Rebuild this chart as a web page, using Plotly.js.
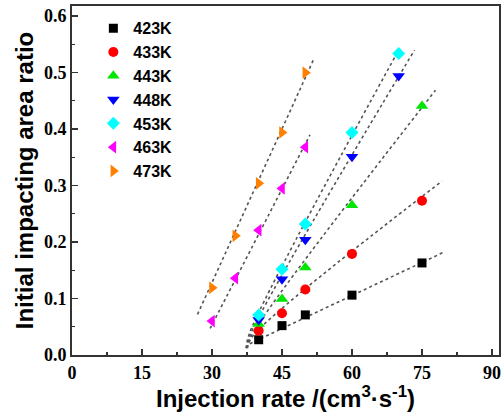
<!DOCTYPE html>
<html>
<head>
<meta charset="utf-8">
<script src="https://cdn.plot.ly/plotly-3.0.1.min.js"></script>
<style>html,body{margin:0;padding:0;background:#fff;}#chart{width:502px;height:412px;}</style>
</head>
<body>
<div id="chart"></div>
<script>
// Series names
const seriesNames = ["423K", "433K", "443K", "448K", "453K", "463K", "473K"];

const x423 = [40, 45, 50, 60, 75];
const y423 = [0.027, 0.052, 0.071, 0.106, 0.163];
const x433 = [40, 45, 50, 60, 75];
const y433 = [0.043, 0.074, 0.116, 0.179, 0.273];
const x443 = [40, 45, 50, 60, 75];
const y443 = [0.055, 0.099, 0.155, 0.265, 0.441];
const x448 = [40, 45, 50, 60, 70];
const y448 = [0.062, 0.134, 0.204, 0.351, 0.494];
const x453 = [40, 45, 50, 60, 70];
const y453 = [0.071, 0.152, 0.232, 0.394, 0.534];
const x463 = [30, 35, 40, 45, 50];
const y463 = [0.060, 0.136, 0.221, 0.295, 0.368];
const x473 = [30, 35, 40, 45, 50];
const y473 = [0.119, 0.211, 0.304, 0.394, 0.500];

// Fit lines (dotted), endpoints and bends
const fitX423 = [38.1, 79.9];
const fitY423 = [0.020, 0.183];
const fitX433 = [37.6, 38.6, 79.3];
const fitY433 = [0.012, 0.032, 0.308];
const fitX443 = [37.5, 38.5, 77.9];
const fitY443 = [0.012, 0.035, 0.469];
const fitX448 = [37.4, 38.3, 73.4];
const fitY448 = [0.012, 0.038, 0.540];
const fitX453 = [37.3, 38.1, 70.0];
const fitY453 = [0.012, 0.040, 0.540];
const fitX463 = [29.6, 51.0];
const fitY463 = [0.047, 0.390];
const fitX473 = [26.9, 51.7];
const fitY473 = [0.072, 0.522];

const xTickVals = [0, 15, 30, 45, 60, 75, 90];
const yTickVals = [0.0, 0.1, 0.2, 0.3, 0.4, 0.5, 0.6];
const yTickText = ["0.0", "0.1", "0.2", "0.3", "0.4", "0.5", "0.6"];

const colors = ["#000000", "#ff0000", "#00e600", "#0000ff", "#00ffff", "#ff00ff", "#ff8000"];
const symbols = ["square", "circle", "triangle-up", "triangle-down", "diamond", "triangle-left", "triangle-right"];
const sizes = [9, 10, 11, 11, 10, 11, 11];

const xs = [x423, x433, x443, x448, x453, x463, x473];
const ys = [y423, y433, y443, y448, y453, y463, y473];
const fxs = [fitX423, fitX433, fitX443, fitX448, fitX453, fitX463, fitX473];
const fys = [fitY423, fitY433, fitY443, fitY448, fitY453, fitY463, fitY473];

const traces = [];
for (let i = 0; i < seriesNames.length; i++) {
  traces.push({
    x: fxs[i], y: fys[i], type: "scatter", mode: "lines",
    line: {color: "#555555", width: 1.6, dash: "dot", shape: "spline"},
    showlegend: false, hoverinfo: "skip"
  });
}
for (let i = 0; i < seriesNames.length; i++) {
  traces.push({
    x: xs[i], y: ys[i], type: "scatter", mode: "markers", name: seriesNames[i],
    marker: {symbol: symbols[i], color: colors[i], size: sizes[i], line: {width: 0}}
  });
}

const layout = {
  width: 502, height: 412,
  margin: {l: 72, r: 3, t: 6, b: 57},
  paper_bgcolor: "#ffffff", plot_bgcolor: "#ffffff",
  showlegend: true,
  legend: {
    x: 0.05, y: 0.985, xanchor: "left", yanchor: "top",
    bgcolor: "rgba(0,0,0,0)",
    font: {family: "Liberation Sans, Arial, sans-serif", size: 16, color: "#000", weight: "bold"},
    tracegroupgap: 0
  },
  xaxis: {
    range: [0, 91.5],
    tickvals: xTickVals,
    ticks: "inside", ticklen: 6, tickwidth: 1.5, tickcolor: "#333",
    minor: {dtick: 7.5, ticks: "inside", ticklen: 3, tickwidth: 1.2, tickcolor: "#333"},
    showgrid: false, zeroline: false,
    showline: true, linecolor: "#333", linewidth: 2, mirror: true,
    tickfont: {family: "Liberation Serif, Times New Roman, serif", size: 18, color: "#000", weight: "bold"},
    title: {text: "Injection rate /(cm<sup>3</sup>·s<sup>-1</sup>)", standoff: 3,
            font: {family: "Liberation Sans, Arial, sans-serif", size: 24, color: "#000", weight: "bold"}}
  },
  yaxis: {
    range: [0, 0.618],
    tickvals: yTickVals, ticktext: yTickText,
    ticks: "inside", ticklen: 6, tickwidth: 1.5, tickcolor: "#333",
    minor: {dtick: 0.05, ticks: "inside", ticklen: 3, tickwidth: 1.2, tickcolor: "#333"},
    showgrid: false, zeroline: false,
    showline: true, linecolor: "#333", linewidth: 2, mirror: true,
    tickfont: {family: "Liberation Serif, Times New Roman, serif", size: 18, color: "#000", weight: "bold"},
    title: {text: "Initial impacting area ratio", standoff: 4,
            font: {family: "Liberation Sans, Arial, sans-serif", size: 24, color: "#000", weight: "bold"}}
  }
};

Plotly.newPlot("chart", traces, layout, {displayModeBar: false, staticPlot: true});
</script>
</body>
</html>
